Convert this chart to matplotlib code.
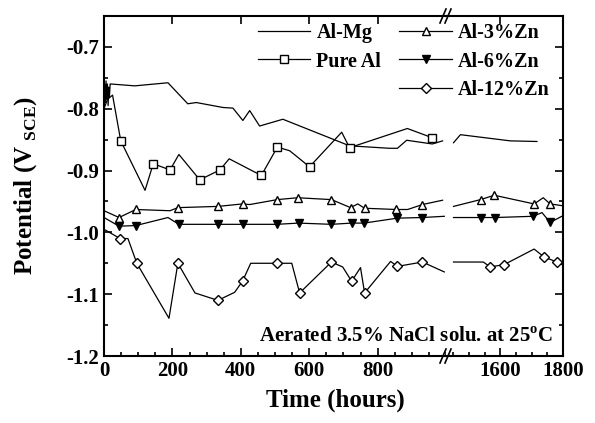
import matplotlib.pyplot as plt
from matplotlib.lines import Line2D
from matplotlib.ticker import MultipleLocator, FixedLocator

plt.rcParams['font.family'] = 'Liberation Serif'
plt.rcParams['font.weight'] = 'bold'
plt.rcParams['mathtext.fontset'] = 'custom'
plt.rcParams['mathtext.rm'] = 'Liberation Serif:bold'
plt.rcParams['mathtext.bf'] = 'Liberation Serif:bold'

# ---- data (time in hours, potential in V vs SCE) ----
# Al-Mg (no markers), noisy start
mg_t1 = [0, 2, 4, 6, 8, 10, 12, 14, 16, 18, 20, 90, 187, 245, 270, 348, 377, 406, 426, 455, 523, 718, 835, 858, 885, 960, 990]
mg_v1 = [-0.80, -0.76, -0.79, -0.755, -0.785, -0.76, -0.795, -0.765, -0.78, -0.76, -0.76, -0.763, -0.758, -0.792, -0.790,
         -0.798, -0.799, -0.819, -0.803, -0.828, -0.817, -0.860, -0.864, -0.864, -0.851, -0.857, -0.852]
mg_t2 = [1451, 1473, 1632, 1717]
mg_v2 = [-0.855, -0.842, -0.852, -0.853]

# Pure Al
al_t = [0, 10, 25, 49, 120, 144, 193, 219, 280, 339, 366, 460, 507, 543, 601, 695, 718, 887, 960]
al_v = [-0.80, -0.785, -0.778, -0.852, -0.932, -0.889, -0.899, -0.874, -0.915, -0.899, -0.881, -0.908, -0.862,
        -0.868, -0.894, -0.838, -0.863, -0.832, -0.847]
al_mk = [3, 5, 6, 8, 9, 11, 12, 14, 16, 18]

# Al-3%Zn
z3_t1 = [0, 44, 93, 193, 216, 333, 405, 426, 507, 566, 665, 721, 742, 762, 855, 888, 931, 990]
z3_v1 = [-0.965, -0.976, -0.963, -0.965, -0.960, -0.958, -0.954, -0.955, -0.947, -0.944, -0.947, -0.960,
         -0.954, -0.961, -0.963, -0.963, -0.955, -0.948]
z3_mk1 = [1, 2, 4, 5, 6, 8, 9, 10, 11, 13, 14, 16]
z3_t2 = [1451, 1537, 1581, 1708, 1737, 1759, 1800]
z3_v2 = [-0.958, -0.947, -0.940, -0.954, -0.944, -0.954, -0.957]
z3_mk2 = [1, 2, 3, 5]

# Al-6%Zn
z6_t1 = [0, 44, 93, 187, 219, 333, 405, 505, 569, 665, 724, 760, 858, 931, 995]
z6_v1 = [-0.976, -0.990, -0.989, -0.976, -0.987, -0.987, -0.987, -0.987, -0.985, -0.987, -0.985, -0.985,
         -0.977, -0.976, -0.974]
z6_mk1 = [1, 2, 4, 5, 6, 7, 8, 9, 10, 11, 12, 13]
z6_t2 = [1451, 1540, 1584, 1705, 1733, 1759, 1800]
z6_v2 = [-0.976, -0.976, -0.976, -0.974, -0.968, -0.984, -0.973]
z6_mk2 = [1, 2, 3, 5]

# Al-12%Zn
z12_t1 = [0, 47, 70, 96, 190, 216, 266, 333, 382, 405, 429, 505, 549, 572, 665, 698, 724, 750, 762, 838, 858, 931, 995]
z12_v1 = [-0.995, -1.010, -1.010, -1.050, -1.139, -1.050, -1.098, -1.110, -1.097, -1.079, -1.050, -1.050,
          -1.050, -1.098, -1.048, -1.056, -1.079, -1.057, -1.098, -1.047, -1.055, -1.048, -1.064]
z12_mk1 = [1, 3, 5, 7, 9, 11, 13, 14, 16, 18, 20, 21]
z12_t2 = [1451, 1546, 1568, 1613, 1708, 1740, 1781, 1800]
z12_v2 = [-1.048, -1.048, -1.056, -1.052, -1.027, -1.040, -1.048, -1.053]
z12_mk2 = [2, 3, 5, 6]

fig = plt.figure(figsize=(5.95, 4.23), dpi=100)
ax1 = fig.add_axes([104 / 595, 67 / 423, 342 / 595, 340 / 423])
ax2 = fig.add_axes([446 / 595, 67 / 423, 117 / 595, 340 / 423], sharey=ax1)

lw = 0.9
ms = 6
ax1.plot(mg_t1, mg_v1, color='k', lw=lw)
ax2.plot(mg_t2, mg_v2, color='k', lw=lw)
ax1.plot(al_t, al_v, color='k', lw=lw, marker='s', ms=ms, mfc='white', mec='k', markevery=al_mk)
ax1.plot(z3_t1, z3_v1, color='k', lw=lw, marker='^', ms=ms, mfc='white', mec='k', markevery=z3_mk1)
ax2.plot(z3_t2, z3_v2, color='k', lw=lw, marker='^', ms=ms, mfc='white', mec='k', markevery=z3_mk2)
ax1.plot(z6_t1, z6_v1, color='k', lw=lw, marker='v', ms=ms, mfc='k', mec='k', markevery=z6_mk1)
ax2.plot(z6_t2, z6_v2, color='k', lw=lw, marker='v', ms=ms, mfc='k', mec='k', markevery=z6_mk2)
ax1.plot(z12_t1, z12_v1, color='k', lw=lw, marker='D', ms=ms - 0.5, mfc='white', mec='k', markevery=z12_mk1)
ax2.plot(z12_t2, z12_v2, color='k', lw=lw, marker='D', ms=ms - 0.5, mfc='white', mec='k', markevery=z12_mk2)

ax1.set_xlim(0, 1000)
ax2.set_xlim(1427, 1800)
ax1.set_ylim(-1.2, -0.65)

for ax in (ax1, ax2):
    for s in ax.spines.values():
        s.set_linewidth(1.5)
    ax.tick_params(which='both', direction='in', width=1.2, labelsize=15)
    ax.tick_params(which='major', length=6)
    ax.tick_params(which='minor', length=3)
ax1.spines['right'].set_visible(False)
ax2.spines['left'].set_visible(False)

ax1.xaxis.set_major_locator(FixedLocator([0, 200, 400, 600, 800]))
ax1.xaxis.set_minor_locator(MultipleLocator(50))
ax1.yaxis.set_minor_locator(MultipleLocator(0.05))
ax1.set_yticks([-1.2, -1.1, -1.0, -0.9, -0.8, -0.7])
ax1.set_yticklabels(['-1.2', '-1.1', '-1.0', '-0.9', '-0.8', '-0.7'])
ax1.tick_params(top=True, right=False)

ax2.xaxis.set_major_locator(FixedLocator([1600, 1800]))
ax2.xaxis.set_minor_locator(FixedLocator([1450, 1500, 1550, 1650, 1700, 1750]))
ax2.tick_params(axis='y', which='both', left=False, right=True, labelleft=False)
ax2.tick_params(top=True)

ax1.set_ylabel('Potential (V$_{\\ \\mathbf{SCE}}$)', fontsize=18, fontweight='bold')
ax1.yaxis.set_label_coords(-0.19, 0.5)
fig.text(335 / 595, 1 - 400 / 423, 'Time (hours)', fontsize=18, fontweight='bold', ha='center', va='center')

fig.text(553 / 595, 1 - 337 / 423, 'Aerated 3.5% NaCl solu. at 25$^{\\mathbf{o}}$C', fontsize=15,
         fontweight='bold', ha='right', va='center')

# break marks
for yb in (67 / 423, 407 / 423):
    for dx in (-5, 0):
        x0 = (448 + dx) / 595
        fig.add_artist(Line2D([x0 - 3 / 595, x0 + 3 / 595], [yb - 7 / 423, yb + 7 / 423], color='k', lw=1.2))

# legend
h_mg = Line2D([], [], color='k', lw=lw)
h_al = Line2D([], [], color='k', lw=lw, marker='s', ms=ms, mfc='white', mec='k')
h_blank = Line2D([], [], color='none')
h_z3 = Line2D([], [], color='k', lw=lw, marker='^', ms=ms, mfc='white', mec='k')
h_z6 = Line2D([], [], color='k', lw=lw, marker='v', ms=ms, mfc='k', mec='k')
h_z12 = Line2D([], [], color='k', lw=lw, marker='D', ms=ms - 0.5, mfc='white', mec='k')
fig.legend([h_mg, h_al, h_blank, h_z3, h_z6, h_z12],
           ['Al-Mg', 'Pure Al', '', 'Al-3%Zn', 'Al-6%Zn', 'Al-12%Zn'],
           ncol=2, loc='upper left', bbox_to_anchor=(248 / 595, 1 - 13 / 423),
           frameon=False, fontsize=14.5, handlelength=2.6, columnspacing=0.9,
           labelspacing=0.42, handletextpad=0.3, borderpad=0)

fig.savefig('out.png', dpi=100)
